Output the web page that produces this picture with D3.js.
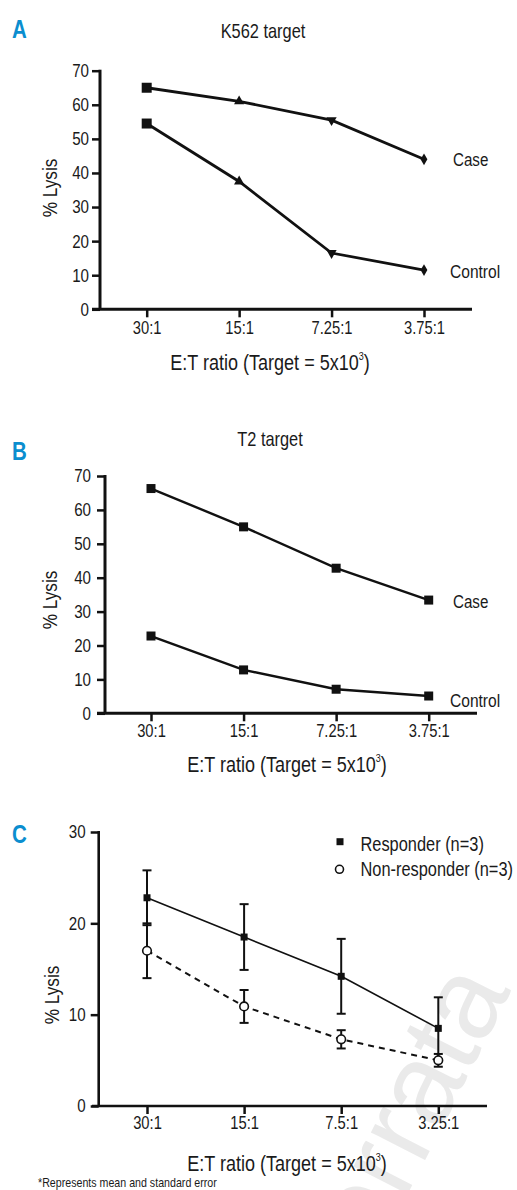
<!DOCTYPE html>
<html>
<head>
<meta charset="utf-8">
<script src="https://cdn.jsdelivr.net/npm/d3@7"></script>
<style>
  body { margin: 0; background: #fff; }
  text { font-family: "Liberation Sans", Arial, sans-serif; fill: #1a1a1a; }
</style>
</head>
<body>
<div id="chart"></div>
<script>
// values
const ratiosAB = ["30:1", "15:1", "7.25:1", "3.75:1"];
const k562Case = [65, 61, 55.5, 44];
const k562Control = [54.5, 37.5, 16.5, 11.5];
const t2Case = [66.3, 55, 42.8, 33.4];
const t2Control = [22.8, 12.8, 7.1, 5.1];
const ticksAB = [0, 10, 20, 30, 40, 50, 60, 70];

const ratiosC = ["30:1", "15:1", "7.5:1", "3.25:1"];
const responderMean = [22.8, 18.5, 14.2, 8.5];
const responderSE = [3.0, 3.6, 4.1, 3.4];
const nonResponderMean = [17.0, 10.9, 7.3, 5.0];
const nonResponderSE = [3.0, 1.8, 1.0, 0.7];
const ticksC = [0, 10, 20, 30];

const NARROW = 0.82; // the figure uses a condensed face

const svg = d3.select("#chart").append("svg")
    .attr("width", 517)
    .attr("height", 1190);

// faint watermark
svg.append("text")
    .attr("class", "wm")
    .attr("transform", "translate(375,1258) rotate(-63)")
    .attr("font-size", 115)
    .style("fill", "#eaeaea")
    .text("errata");

function xTitle(g, x, y) {
  const t = g.append("text")
      .attr("x", x).attr("y", y)
      .attr("text-anchor", "middle")
      .attr("font-size", 22);
  t.append("tspan").text("E:T ratio (Target = 5x10");
  t.append("tspan").attr("font-size", 11).attr("dy", -10).text("3");
  t.append("tspan").attr("dy", 10).text(")");
}

function panel(p) {
  const g = svg.append("g");
  const y = d3.scaleLinear().domain(p.domain).range([p.yBottom, p.yTop]);
  const x = d3.scalePoint().domain(p.cats).range(p.points);

  g.append("text")
      .attr("x", 12).attr("y", p.letterY)
      .attr("font-size", 25).attr("font-weight", "bold")
      .style("fill", "#0b8ecf")
      .text(p.letter);

  if (p.title) {
    g.append("text")
        .attr("x", p.titleX).attr("y", p.titleY)
        .attr("text-anchor", "middle")
        .attr("font-size", 20)
        .text(p.title);
  }

  // y axis
  const ya = g.append("g")
      .attr("transform", "translate(" + p.axisX + ",0)")
      .call(d3.axisLeft(y).tickValues(p.ticks).tickSize(8).tickSizeOuter(0).tickPadding(p.yPad));
  ya.select(".domain").remove();
  ya.selectAll(".tick line").attr("stroke", "#111").attr("stroke-width", 2.5);
  ya.selectAll(".tick text").attr("font-size", 18.5);
  g.append("line")
      .attr("x1", p.axisX).attr("x2", p.axisX)
      .attr("y1", p.yTop - 1).attr("y2", p.yBottom)
      .attr("stroke", "#111").attr("stroke-width", p.axisW);

  // x axis
  const xa = g.append("g")
      .attr("transform", "translate(0," + p.yBottom + ")")
      .call(d3.axisBottom(x).tickSize(8).tickSizeOuter(0).tickPadding(p.xPad));
  xa.select(".domain").remove();
  xa.selectAll(".tick line").attr("stroke", "#111").attr("stroke-width", 2.5);
  xa.selectAll(".tick text").attr("font-size", 18);
  g.append("line")
      .attr("x1", p.xLine[0]).attr("x2", p.xLine[1])
      .attr("y1", p.yBottom).attr("y2", p.yBottom)
      .attr("stroke", "#111").attr("stroke-width", p.axisW);

  g.append("text")
      .attr("class", "rot")
      .attr("transform", "translate(" + p.ylabX + "," + p.ylabY + ") rotate(-90) scale(" + NARROW + ",1)")
      .attr("text-anchor", "middle")
      .attr("font-size", 21)
      .text("% Lysis");

  xTitle(g, p.xtX, p.xtY);
  return { g: g, x: x, y: y };
}

const line = (x, y, cats) => d3.line().x((d, i) => x(cats[i])).y(d => y(d));

// ---------- A ----------
const A = panel({
  letter: "A", letterY: 38, title: "K562 target", titleX: 263, titleY: 38,
  domain: [0, 70], ticks: ticksAB, cats: ratiosAB,
  axisX: 100, yTop: 70.7, yBottom: 309.3, xLine: [92, 472], points: [146.7, 424],
  axisW: 3, yPad: 3, xPad: 3.5, ylabX: 57, ylabY: 188, xtX: 270, xtY: 370
});
const shapesA = [
  d3.symbol().type(d3.symbolSquare).size(100),
  d3.symbol().type(d3.symbolTriangle).size(45),
  d3.symbol().type(d3.symbolTriangle).size(45),
  d3.symbol().type(d3.symbolDiamond).size(40)
];
[k562Case, k562Control].forEach(s => {
  A.g.append("path").datum(s)
      .attr("d", line(A.x, A.y, ratiosAB))
      .attr("fill", "none").attr("stroke", "#111").attr("stroke-width", 2.8);
  A.g.selectAll(null).data(s).join("path")
      .attr("d", (d, i) => shapesA[i]())
      .attr("transform", (d, i) => "translate(" + A.x(ratiosAB[i]) + "," + A.y(d) + ")" + (i === 2 ? " rotate(180)" : ""))
      .attr("fill", "#111");
});
A.g.append("text").attr("x", 453).attr("y", 166).attr("font-size", 18.5).text("Case");
A.g.append("text").attr("x", 450).attr("y", 278).attr("font-size", 19).text("Control");

// ---------- B ----------
const B = panel({
  letter: "B", letterY: 460, title: "T2 target", titleX: 270, titleY: 446,
  domain: [0, 70], ticks: ticksAB, cats: ratiosAB,
  axisX: 105, yTop: 476, yBottom: 713.3, xLine: [97, 477], points: [151, 428.7],
  axisW: 3, yPad: 6, xPad: 2.5, ylabX: 57, ylabY: 600, xtX: 287, xtY: 772
});
[t2Case, t2Control].forEach(s => {
  B.g.append("path").datum(s)
      .attr("d", line(B.x, B.y, ratiosAB))
      .attr("fill", "none").attr("stroke", "#111").attr("stroke-width", 2.4);
  B.g.selectAll(null).data(s).join("rect")
      .attr("x", (d, i) => B.x(ratiosAB[i]) - 4.5)
      .attr("y", d => B.y(d) - 4.5)
      .attr("width", 9).attr("height", 9)
      .attr("fill", "#111");
});
B.g.append("text").attr("x", 453).attr("y", 608).attr("font-size", 18.5).text("Case");
B.g.append("text").attr("x", 450).attr("y", 707).attr("font-size", 19).text("Control");

// ---------- C ----------
const C = panel({
  letter: "C", letterY: 843, title: null,
  domain: [0, 30], ticks: ticksC, cats: ratiosC,
  axisX: 98.7, yTop: 832, yBottom: 1106, xLine: [92, 487], points: [147, 438.3],
  axisW: 2.6, yPad: 5, xPad: 2.5, ylabX: 59, ylabY: 995, xtX: 287, xtY: 1171
});
const series = [
  { mean: nonResponderMean, se: nonResponderSE, dash: "6,5", open: true },
  { mean: responderMean, se: responderSE, dash: null, open: false }
];
series.forEach(s => {
  const eb = C.g.append("g").attr("stroke", "#111").attr("stroke-width", 2);
  s.mean.forEach((m, i) => {
    const cx = C.x(ratiosC[i]);
    const lo = C.y(m - s.se[i]), hi = C.y(m + s.se[i]);
    eb.append("line").attr("x1", cx).attr("x2", cx).attr("y1", lo).attr("y2", hi);
    eb.append("line").attr("x1", cx - 4.5).attr("x2", cx + 4.5).attr("y1", lo).attr("y2", lo);
    eb.append("line").attr("x1", cx - 4.5).attr("x2", cx + 4.5).attr("y1", hi).attr("y2", hi);
  });
  C.g.append("path").datum(s.mean)
      .attr("d", line(C.x, C.y, ratiosC))
      .attr("fill", "none").attr("stroke", "#111").attr("stroke-width", s.open ? 2 : 1.6)
      .attr("stroke-dasharray", s.dash);
});
series.forEach(s => {
  if (s.open) {
    C.g.selectAll(null).data(s.mean).join("circle")
        .attr("cx", (d, i) => C.x(ratiosC[i])).attr("cy", d => C.y(d))
        .attr("r", 4.3).attr("fill", "#fff").attr("stroke", "#111").attr("stroke-width", 1.6);
  } else {
    C.g.selectAll(null).data(s.mean).join("rect")
        .attr("x", (d, i) => C.x(ratiosC[i]) - 3.5).attr("y", d => C.y(d) - 3.5)
        .attr("width", 7).attr("height", 7).attr("fill", "#111");
  }
});

// legend
C.g.append("rect").attr("x", 336.5).attr("y", 838.2).attr("width", 7).attr("height", 7).attr("fill", "#111");
C.g.append("circle").attr("cx", 339.5).attr("cy", 869.3).attr("r", 4).attr("fill", "#fff")
    .attr("stroke", "#111").attr("stroke-width", 1.6);
C.g.append("text").attr("x", 360.5).attr("y", 851.5).attr("font-size", 20).text("Responder (n=3)");
C.g.append("text").attr("x", 360.5).attr("y", 876.5).attr("font-size", 20).text("Non-responder (n=3)");

svg.append("text").attr("x", 38).attr("y", 1187).attr("font-size", 13).text("*Represents mean and standard error");

// squeeze every label horizontally around its own anchor
svg.selectAll("text").filter(function () {
  return !this.classList.contains("wm") && !this.classList.contains("rot");
}).each(function () {
  const t = d3.select(this);
  const x = +t.attr("x") || 0;
  t.attr("transform", "translate(" + x + ",0) scale(" + NARROW + ",1) translate(" + (-x) + ",0)");
});
</script>
</body>
</html>
